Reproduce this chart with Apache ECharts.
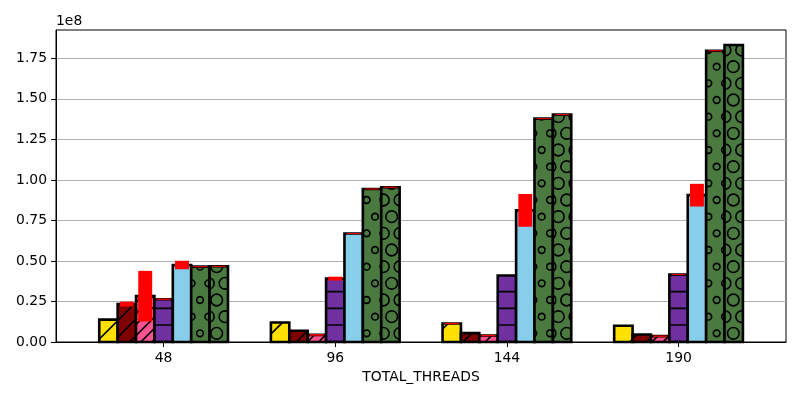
<!DOCTYPE html>
<html>
<head>
<meta charset="utf-8">
<script src="https://cdn.jsdelivr.net/npm/echarts@6/dist/echarts.min.js"></script>
<style>html,body{margin:0;padding:0;background:#fff}#c{width:800px;height:400px}</style>
</head>
<body>
<div id="c"></div>
<script>
// ---- data ----
const categories = ['48', '96', '144', '190'];
const yellowVals  = [1.38e7, 1.20e7, 1.14e7, 1.00e7];
const yellowErr   = [0, 0, 4e5, 0];
const maroonVals  = [2.34e7, 6.9e6, 5.5e6, 4.6e6];
const maroonErr   = [1.5e6, 0, 0, 0];
const pinkVals    = [2.83e7, 4.4e6, 4.0e6, 3.6e6];
const pinkErr     = [1.56e7, 5e5, 4e5, 4e5];
const purpleVals  = [2.64e7, 3.91e7, 4.10e7, 4.16e7];
const purpleErr   = [4e5, 1.2e6, 0, 3e5];
const blueVals    = [4.75e7, 6.69e7, 8.12e7, 9.06e7];
const blueErr     = [2.6e6, 3e5, 1.01e7, 7.0e6];
const green1Vals  = [4.65e7, 9.44e7, 1.378e8, 1.797e8];
const green1Err   = [3e5, 3e5, 3e5, 3e5];
const green2Vals  = [4.67e7, 9.55e7, 1.403e8, 1.832e8];
const green2Err   = [3e5, 3e5, 3e5, 0];
const yTickValues = [0, 2.5e7, 5e7, 7.5e7, 1e8, 1.25e8, 1.5e8, 1.75e8];

const seriesDefs = [
  {vals: yellowVals, errs: yellowErr, color: '#FFE000', hatch: {diag: 1}},
  {vals: maroonVals, errs: maroonErr, color: '#800000', hatch: {diag: 2}},
  {vals: pinkVals,   errs: pinkErr,   color: '#FF5090', hatch: {diag: 3}},
  {vals: purpleVals, errs: purpleErr, color: '#7030A0', hatch: {horiz: 1}},
  {vals: blueVals,   errs: blueErr,   color: '#87CEEB', hatch: {}},
  {vals: green1Vals, errs: green1Err, color: '#4A7A40', hatch: {circ: 0.2}},
  {vals: green2Vals, errs: green2Err, color: '#4A7A40', hatch: {circ: 0.35}}
];

const N = seriesDefs.length;
const BAR_W = 0.75 / N;
const DPR = window.devicePixelRatio || 1;

function makePattern(bg, h) {
  const T = 100;
  const c = document.createElement('canvas');
  c.width = c.height = Math.round(T * DPR);
  const ctx = c.getContext('2d');
  ctx.scale(DPR, DPR);
  ctx.fillStyle = bg;
  ctx.fillRect(0, 0, T, T);
  ctx.strokeStyle = '#000';
  ctx.lineWidth = 1.6;
  if (h.diag) {
    const d = 200 / (6 * h.diag);
    const phase = 5;
    for (let s = phase - 3 * T; s < 3 * T; s += d) {
      ctx.beginPath();
      ctx.moveTo(s + T, -T);
      ctx.lineTo(s - 2 * T, 2 * T);
      ctx.stroke();
    }
  }
  if (h.horiz) {
    const d = T / 6;
    for (let y = d / 2; y < T; y += d) {
      ctx.beginPath();
      ctx.moveTo(-5, y);
      ctx.lineTo(T + 5, y);
      ctx.stroke();
    }
  }
  if (h.circ) {
    const d = T / 6;
    const r = d * h.circ;
    for (let i = -1; i <= 7; i++) {
      const off = (((i % 2) + 2) % 2) ? d / 2 : 0;
      for (let j = -1; j <= 7; j++) {
        ctx.beginPath();
        ctx.arc(off + j * d, i * d, r, 0, Math.PI * 2);
        ctx.stroke();
      }
    }
  }
  return {image: c, repeat: 'repeat', scaleX: 1 / DPR, scaleY: 1 / DPR};
}

const series = [];
seriesDefs.forEach((def, sIdx) => {
  const fill = makePattern(def.color, def.hatch);
  series.push({
    type: 'custom',
    z: 2,
    data: def.vals.map((v, g) => [g, v]),
    renderItem: function (params, api) {
      const g = api.value(0), v = api.value(1);
      const xc = g + (sIdx - (N - 1) / 2) * BAR_W;
      const p0 = api.coord([xc - BAR_W / 2, v]);
      const p1 = api.coord([xc + BAR_W / 2, 0]);
      return {
        type: 'rect',
        shape: {x: p0[0], y: p0[1], width: p1[0] - p0[0], height: p1[1] - p0[1]},
        style: {fill: fill, stroke: '#000', lineWidth: 2.6}
      };
    }
  });
});
seriesDefs.forEach((def, sIdx) => {
  series.push({
    type: 'custom',
    z: 5,
    data: def.vals.map((v, g) => [g, v, def.errs[g]]),
    renderItem: function (params, api) {
      const g = api.value(0), v = api.value(1), e = api.value(2);
      if (!(e > 0)) return null;
      const xc = g + (sIdx - (N - 1) / 2) * BAR_W;
      const top = api.coord([xc, v + e]);
      const bot = api.coord([xc, v - e]);
      const w = 13.9;
      return {
        type: 'rect',
        shape: {x: top[0] - w / 2, y: top[1], width: w, height: Math.max(bot[1] - top[1], 1)},
        style: {fill: '#FF0000'}
      };
    }
  });
});

const FONT = 'DejaVu Sans';
const chart = echarts.init(document.getElementById('c'));
chart.setOption({
  animation: false,
  backgroundColor: '#fff',
  grid: {left: 56, right: 14, top: 30, bottom: 58, show: true, borderColor: '#000', borderWidth: 1, backgroundColor: 'transparent'},
  xAxis: {
    type: 'value',
    min: -0.627,
    max: 3.626,
    name: 'TOTAL_THREADS',
    nameLocation: 'middle',
    nameGap: 28,
    nameTextStyle: {fontFamily: FONT, fontSize: 13.9, color: '#000'},
    splitLine: {show: false},
    axisLine: {show: true, onZero: false, lineStyle: {color: '#000', width: 1}},
    axisTick: {show: true, customValues: [0, 1, 2, 3], length: 5, lineStyle: {color: '#000', width: 1}},
    axisLabel: {
      customValues: [0, 1, 2, 3],
      formatter: v => categories[Math.round(v)],
      fontFamily: FONT, fontSize: 13.9, color: '#000', margin: 9
    }
  },
  yAxis: {
    type: 'value',
    min: 0,
    max: 1.925e8,
    interval: 2.5e7,
    name: '1e8',
    nameLocation: 'end',
    nameGap: 2,
    nameTextStyle: {fontFamily: FONT, fontSize: 13.9, color: '#000', align: 'left'},
    splitLine: {show: true, lineStyle: {color: '#b0b0b0', width: 1}},
    axisLine: {show: true, onZero: false, lineStyle: {color: '#000', width: 1}},
    axisTick: {show: true, customValues: yTickValues, length: 5, lineStyle: {color: '#000', width: 1}},
    axisLabel: {
      customValues: yTickValues,
      formatter: v => (v / 1e8).toFixed(2),
      fontFamily: FONT, fontSize: 13.9, color: '#000', margin: 9
    }
  },
  series: series
});
</script>
</body>
</html>
